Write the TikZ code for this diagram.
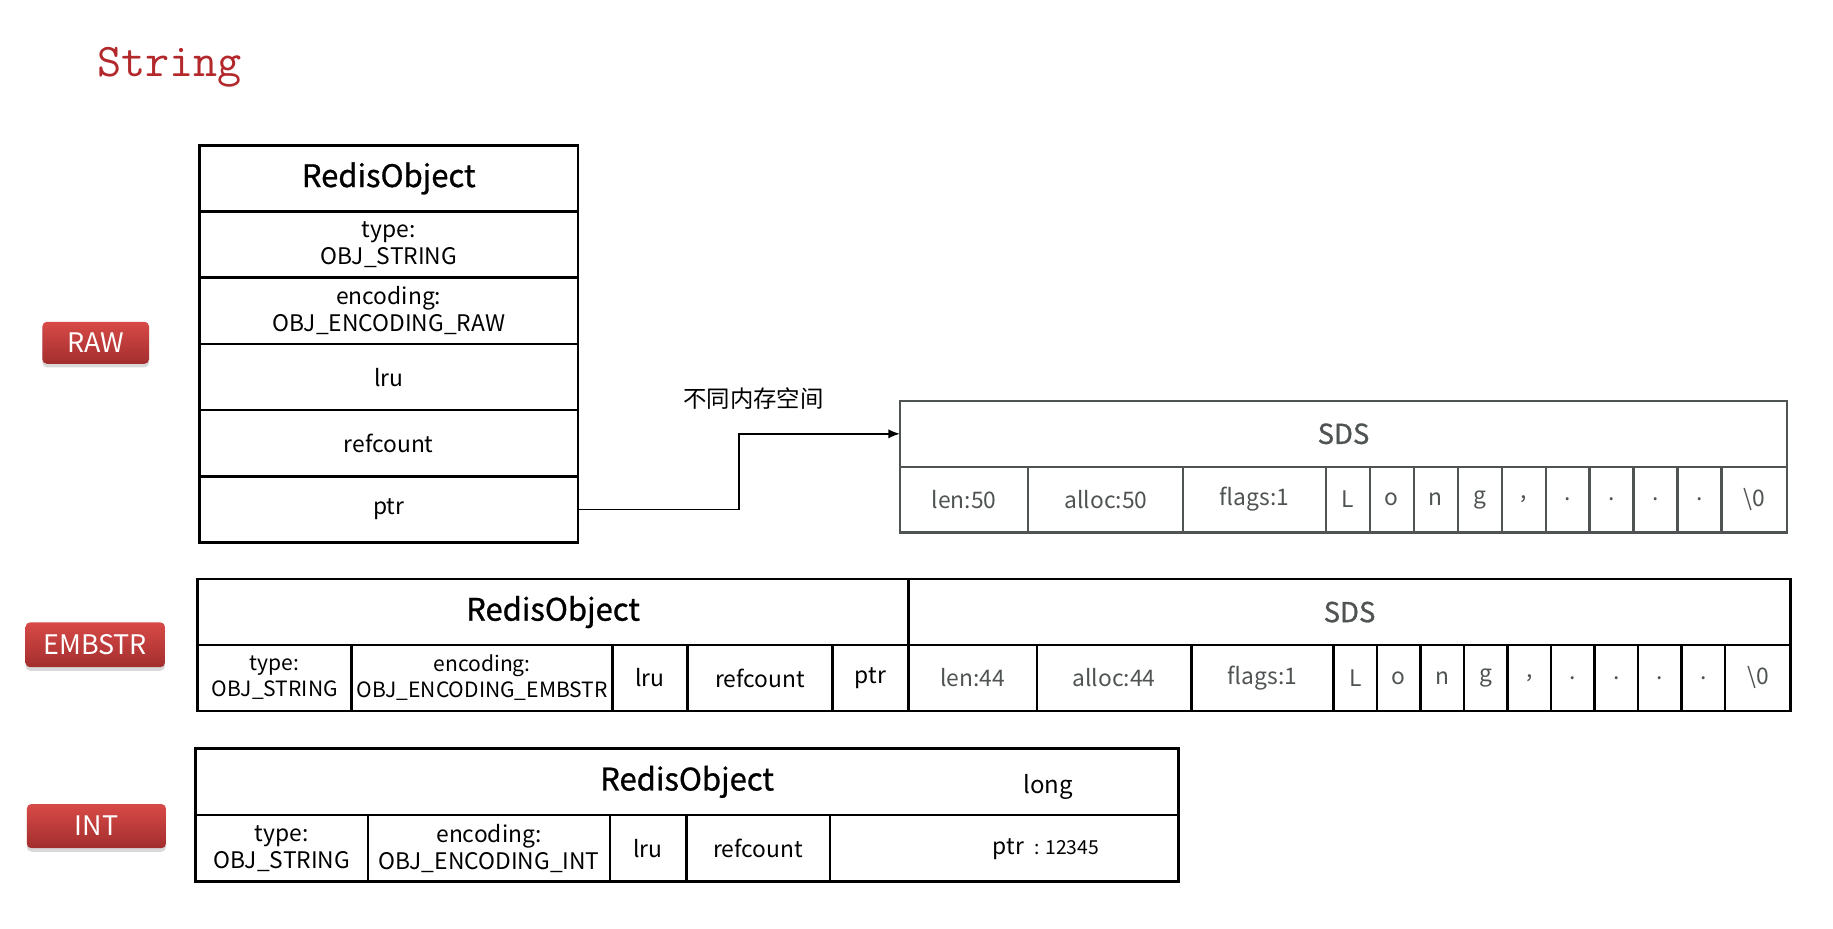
\documentclass[tikz,border=0pt]{standalone}
\usepackage{fontspec}
\setmainfont{Noto Sans CJK SC}
\newfontfamily\headfont{Noto Sans CJK SC}[FakeBold=0.9]
\usetikzlibrary{positioning,arrows.meta,shadows}
\definecolor{titlered}{HTML}{B3282B}
\definecolor{tagtop}{HTML}{D84A47}
\definecolor{tagbot}{HTML}{A22E2E}
\definecolor{sdsgray}{HTML}{4F5353}

\begin{document}
\begin{tikzpicture}[x=1pt,y=-1pt,
cell/.style={draw,line width=2.2pt,inner sep=0pt,outer sep=0pt,align=center,font=\fontsize{19.5}{23}\selectfont},
small/.style={cell,font=\fontsize{18}{22}\selectfont},
headcell/.style={cell,font=\headfont\fontsize{26.5}{30}\selectfont},
sds/.style={cell,draw=sdsgray,text=sdsgray,line width=1.8pt},
sdsin/.style={cell,text=sdsgray},
sdshead/.style={sds,font=\headfont\fontsize{23.5}{26}\selectfont},
rawrow/.style={cell,minimum width=323.5pt,minimum height=56.6pt},
tag/.style={rounded corners=4pt,top color=tagtop,bottom color=tagbot,text=white,inner sep=0pt,
  font=\fontsize{23}{26}\selectfont,drop shadow={shadow xshift=0pt,shadow yshift=-3pt,opacity=0.3}}]
\useasboundingbox (0,0) rectangle (1566.7,793.2);

\node[anchor=base west,inner sep=0pt,text=titlered,font=\ttfamily\fontsize{40}{44}\selectfont] (title) at (83,65) {String};

% encoding tags
\node[tag,minimum width=91.2pt,minimum height=36pt] (tagraw) at (81.8,293) {RAW};
\node[tag,minimum width=119.2pt,minimum height=38.4pt] (tagemb) at (81.4,551.1) {EMBSTR};
\node[tag,minimum width=119pt,minimum height=37.8pt] (tagint) at (82.4,706.1) {INT};

% RAW
\node[rawrow,headcell] (rawobj) at (332.25,152.5) {RedisObject};
\node[rawrow,below=0pt of rawobj] (rawtype) {type:\\OBJ\_STRING};
\node[rawrow,below=0pt of rawtype] (rawenc) {encoding:\\OBJ\_ENCODING\_RAW};
\node[rawrow,below=0pt of rawenc] (rawlru) {lru};
\node[rawrow,below=0pt of rawlru] (rawref) {refcount};
\node[rawrow,below=0pt of rawref] (rawptr) {ptr};

\node[sdshead,minimum width=758.2pt,minimum height=56.2pt] (rawsds) at (1148.3,370.8) {SDS};
\node[sds,minimum width=109.8pt,minimum height=56.2pt,below right=0pt of rawsds.south west] (rawlen) {len:50};
\node[sds,minimum width=132.5pt,minimum height=56.2pt,right=0pt of rawlen] (rawalloc) {alloc:50};
\node[sds,minimum width=121.5pt,minimum height=56.2pt,right=0pt of rawalloc] (rawflags) {flags:1};
\foreach \ch [count=\i] in {L,o,n,g,{,},.,.,.,.}
  \node[sds,minimum width=37.6pt,minimum height=56.2pt] (rawc\i) at (1114.2+37.6*\i,427) {\ch};
\node[sds,minimum width=56pt,minimum height=56.2pt,right=0pt of rawc9] (rawend) {\textbackslash 0};

\draw[line width=1.3pt,-{Latex[length=10pt,width=8pt]}] (rawptr.east) -- ++(137.5,0) |- (rawsds.west);
\node[font=\fontsize{20}{24}\selectfont] (memnote) at (644,341) {不同内存空间};

% EMBSTR
\node[headcell,minimum width=607.4pt,minimum height=56.3pt] (embobj) at (472.7,523.15) {RedisObject};
\node[sdsin,font=\headfont\fontsize{23.5}{26}\selectfont,minimum width=754.1pt,minimum height=56.3pt] (embsds) at (1153.45,523.15) {SDS};
\node[small,minimum width=131.6pt,minimum height=56.3pt,below right=0pt of embobj.south west] (embtype) {type:\\OBJ\_STRING};
\node[small,minimum width=222.9pt,minimum height=56.3pt,right=0pt of embtype] (embenc) {encoding:\\OBJ\_ENCODING\_EMBSTR};
\node[cell,minimum width=64.3pt,minimum height=56.3pt,right=0pt of embenc] (emblru) {lru};
\node[cell,minimum width=123.8pt,minimum height=56.3pt,right=0pt of emblru] (embref) {refcount};
\node[cell,minimum width=64.8pt,minimum height=56.3pt,right=0pt of embref] (embptr) {ptr};
\node[sdsin,minimum width=109.8pt,minimum height=56.3pt,right=0pt of embptr] (emblen) {len:44};
\node[sdsin,minimum width=132pt,minimum height=56.3pt,right=0pt of emblen] (emballoc) {alloc:44};
\node[sdsin,minimum width=121.6pt,minimum height=56.3pt,right=0pt of emballoc] (embflags) {flags:1};
\foreach \ch [count=\i] in {L,o,n,g,{,},.,.,.,.}
  \node[sdsin,minimum width=37.18pt,minimum height=56.3pt] (embc\i) at (1121.21+37.18*\i,579.45) {\ch};
\node[sdsin,minimum width=56.1pt,minimum height=56.3pt,right=0pt of embc9] (embend) {\textbackslash 0};

% INT
\node[headcell,minimum width=840.5pt,minimum height=56.9pt] (intobj) at (587.25,668.25) {RedisObject};
\node[cell,minimum width=147.6pt,minimum height=56.9pt,below right=0pt of intobj.south west] (inttype) {type:\\OBJ\_STRING};
\node[cell,minimum width=206.6pt,minimum height=56.9pt,right=0pt of inttype] (intenc) {encoding:\\OBJ\_ENCODING\_INT};
\node[cell,minimum width=65.4pt,minimum height=56.9pt,right=0pt of intenc] (intlru) {lru};
\node[cell,minimum width=122.9pt,minimum height=56.9pt,right=0pt of intlru] (intref) {refcount};
\node[cell,minimum width=298pt,minimum height=56.9pt,right=0pt of intref] (intptr) {};
\node[font=\fontsize{20.5}{24}\selectfont] (intlong) at (896,673) {long};
\node[font=\fontsize{19.5}{23}\selectfont] (intval) at (894,726) {ptr\ \ {\fontsize{16.5}{19}\selectfont: 12345}};

\end{tikzpicture}
\end{document}
